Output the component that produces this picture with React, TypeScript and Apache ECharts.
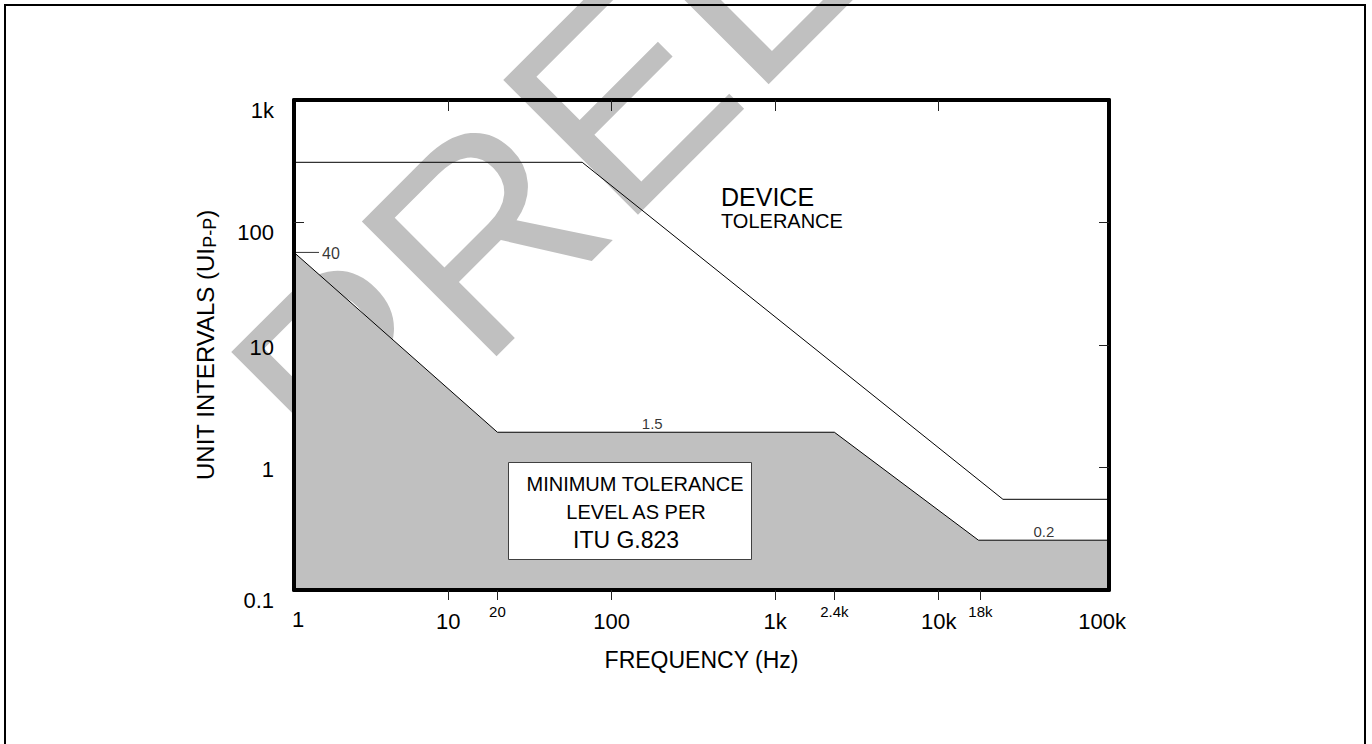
import React, { useEffect, useRef } from 'react';
import * as echarts from 'echarts';

// ---- axis ranges ----
const X_MIN = 1.14;
const X_MAX = 110000;
const Y_MIN = 0.1;
const Y_MAX = 1000;

// ---- series data (frequency Hz, UI p-p) ----
const maskFreq = [1.14, 20, 2300, 17500, 110000];
const maskUI = [57, 1.94, 1.94, 0.255, 0.255];
const deviceFreq = [1.14, 66, 24700, 110000];
const deviceUI = [310, 310, 0.55, 0.55];

// ---- tick labels ----
const xMajorLabelValues = [1.14, 10, 100, 1000, 10000, 100000];
const xMajorLabels = ['1', '10', '100', '1k', '10k', '100k'];
const xMinorTickValues = [20, 2300, 18000];
const xMinorTickLabels = ['20', '2.4k', '18k'];
const xBottomTickValues = [10, 20, 100, 1000, 2300, 10000, 18000];
const xTopTickValues = [10, 100, 1000, 10000];

const yLabelValues = [0.1, 1, 10, 100, 1000];
const yLabels = ['0.1', '1', '10', '100', '1k'];
const yLowered = ['0.1', '100', '1k'];
const yLeftTickValues = [100];
const yRightTickValues = [1, 10, 100];

// ---- annotations on the curves ----
const valueLabelFreq = [177, 44000];
const valueLabelUI = [1.94, 0.255];
const valueLabels = ['1.5', '0.2'];
const markerFreq = [1.14];
const markerUI = [57];
const markerLabels = ['40'];

const FONT = '"Liberation Sans", Arial, Helvetica, sans-serif';

const near = (a: number, b: number) => Math.abs(Math.log10(a) - Math.log10(b)) < 0.01;

export default function App() {
  const ref = useRef<HTMLDivElement>(null);
  useEffect(() => {
    if (!ref.current) return;
    const chart = echarts.init(ref.current, undefined, { renderer: 'svg' });
    const zip = (xs: number[], ys: number[]) => xs.map((x, i) => [x, ys[i]]);
    const option: any = {
      animation: false,
      textStyle: { fontFamily: FONT, color: '#000' },
      grid: { left: 294, top: 100, width: 815, height: 490, show: false },
      xAxis: [
        {
          type: 'log',
          logBase: 10,
          min: X_MIN,
          max: X_MAX,
          position: 'bottom',
          z: 5,
          name: 'FREQUENCY (Hz)',
          nameLocation: 'middle',
          nameGap: 58,
          nameTextStyle: { fontFamily: FONT, fontSize: 23, color: '#000', verticalAlign: 'top' },
          axisLine: { show: true, lineStyle: { color: '#000', width: 4 } },
          axisTick: {
            show: true,
            inside: false,
            length: 10,
            customValues: xBottomTickValues,
            lineStyle: { color: '#222', width: 1 },
          },
          axisLabel: {
            show: true,
            margin: 14,
            customValues: [...xMajorLabelValues, ...xMinorTickValues],
            showMinLabel: true,
            showMaxLabel: true,
            hideOverlap: false,
            formatter: (v: number) => {
              const mi = xMinorTickValues.findIndex((t) => near(t, v));
              if (mi >= 0) return '{s|' + xMinorTickLabels[mi] + '}';
              const ma = xMajorLabelValues.findIndex((t) => near(t, v));
              if (ma >= 0) return (ma === 0 ? '{f|' : '{b|') + xMajorLabels[ma] + '}';
              return '';
            },
            rich: {
              s: { fontFamily: FONT, fontSize: 15, lineHeight: 15, color: '#000' },
              b: { fontFamily: FONT, fontSize: 22, lineHeight: 22, color: '#000', padding: [12, 0, 0, 0] },
              f: { fontFamily: FONT, fontSize: 22, lineHeight: 22, color: '#000', padding: [8, 0, 0, 8] },
            },
          },
          splitLine: { show: false },
        },
        {
          type: 'log',
          logBase: 10,
          min: X_MIN,
          max: X_MAX,
          position: 'top',
          z: 5,
          axisLine: { show: true, lineStyle: { color: '#000', width: 4 } },
          axisTick: {
            show: true,
            inside: true,
            length: 11,
            customValues: xTopTickValues,
            lineStyle: { color: '#222', width: 1 },
          },
          axisLabel: { show: false },
          splitLine: { show: false },
        },
      ],
      yAxis: [
        {
          type: 'log',
          logBase: 10,
          min: Y_MIN,
          max: Y_MAX,
          position: 'left',
          z: 5,
          name: '{a|UNIT INTERVALS (UI}{b|P-P}{a|)}',
          nameLocation: 'middle',
          nameRotate: 90,
          nameGap: 75,
          nameTextStyle: {
            fontFamily: FONT,
            rich: {
              a: { fontFamily: FONT, fontSize: 24, lineHeight: 28, color: '#000' },
              b: { fontFamily: FONT, fontSize: 18, lineHeight: 28, color: '#000', verticalAlign: 'bottom', padding: [6, 0, 0, 0] },
            },
          },
          axisLine: { show: true, lineStyle: { color: '#000', width: 4 } },
          axisTick: {
            show: true,
            inside: true,
            length: 10,
            customValues: yLeftTickValues,
            lineStyle: { color: '#222', width: 1 },
          },
          axisLabel: {
            show: true,
            margin: 20,
            showMinLabel: true,
            showMaxLabel: true,
            customValues: yLabelValues,
            formatter: (v: number) => {
              const i = yLabelValues.findIndex((t) => near(t, v));
              if (i < 0) return '';
              const lbl = yLabels[i];
              return (yLowered.includes(lbl) ? '{lo|' : '{n|') + lbl + '}';
            },
            rich: {
              n: { fontFamily: FONT, fontSize: 22, lineHeight: 22, color: '#000', padding: [4, 0, 0, 0] },
              lo: { fontFamily: FONT, fontSize: 22, lineHeight: 22, color: '#000', padding: [20, 0, 0, 0] },
            },
          },
          splitLine: { show: false },
        },
        {
          type: 'log',
          logBase: 10,
          min: Y_MIN,
          max: Y_MAX,
          position: 'right',
          z: 5,
          axisLine: { show: true, lineStyle: { color: '#000', width: 4 } },
          axisTick: {
            show: true,
            inside: true,
            length: 10,
            customValues: yRightTickValues,
            lineStyle: { color: '#222', width: 1 },
          },
          axisLabel: { show: false },
          splitLine: { show: false },
        },
      ],
      graphic: [
        {
          type: 'text',
          z: -10,
          silent: true,
          x: 282,
          y: 435,
          rotation: Math.PI / 4,
          style: {
            text: 'PRELIMINARY',
            fontFamily: FONT,
            fontSize: 277,
            fill: '#c0c0c0',
            align: 'left',
            verticalAlign: 'middle',
          },
        },
        {
          type: 'rect',
          z: 20,
          silent: true,
          shape: { x: 5, y: 5, width: 1360, height: 800 },
          style: { fill: 'none', stroke: '#000', lineWidth: 2 },
        },
        {
          type: 'text',
          z: 20,
          x: 721,
          y: 197,
          style: { text: 'DEVICE', fontFamily: FONT, fontSize: 25, fill: '#000', align: 'left', verticalAlign: 'middle' },
        },
        {
          type: 'text',
          z: 20,
          x: 721,
          y: 221,
          style: { text: 'TOLERANCE', fontFamily: FONT, fontSize: 20, fill: '#000', align: 'left', verticalAlign: 'middle' },
        },
        {
          type: 'rect',
          z: 20,
          shape: { x: 508.5, y: 462.5, width: 243, height: 97 },
          style: { fill: '#fff', stroke: '#404040', lineWidth: 1 },
        },
        {
          type: 'text',
          z: 21,
          x: 635,
          y: 484,
          style: { text: 'MINIMUM TOLERANCE', fontFamily: FONT, fontSize: 20, fill: '#000', align: 'center', verticalAlign: 'middle' },
        },
        {
          type: 'text',
          z: 21,
          x: 636,
          y: 512,
          style: { text: 'LEVEL AS PER', fontFamily: FONT, fontSize: 20, fill: '#000', align: 'center', verticalAlign: 'middle' },
        },
        {
          type: 'text',
          z: 21,
          x: 573,
          y: 540,
          style: { text: 'ITU G.823', fontFamily: FONT, fontSize: 23, fill: '#000', align: 'left', verticalAlign: 'middle' },
        },
      ],
      series: [
        {
          name: 'ITU G.823 minimum tolerance',
          type: 'line',
          xAxisIndex: 0,
          yAxisIndex: 0,
          data: zip(maskFreq, maskUI),
          symbol: 'none',
          z: 2,
          lineStyle: { color: '#000', width: 1 },
          areaStyle: { color: '#c0c0c0', opacity: 1, origin: 'start' },
        },
        {
          name: 'Device tolerance',
          type: 'line',
          xAxisIndex: 0,
          yAxisIndex: 0,
          data: zip(deviceFreq, deviceUI),
          symbol: 'none',
          z: 3,
          lineStyle: { color: '#000', width: 1 },
        },
        {
          name: 'value labels',
          type: 'scatter',
          xAxisIndex: 0,
          yAxisIndex: 0,
          data: zip(valueLabelFreq, valueLabelUI),
          symbolSize: 1,
          clip: false,
          z: 4,
          itemStyle: { color: 'rgba(0,0,0,0)' },
          label: {
            show: true,
            position: 'top',
            distance: 1,
            fontFamily: FONT,
            fontSize: 15,
            color: '#000',
            formatter: (p: any) => valueLabels[p.dataIndex],
          },
        },
        {
          name: 'marker',
          type: 'scatter',
          xAxisIndex: 0,
          yAxisIndex: 0,
          data: zip(markerFreq, markerUI),
          symbol: 'rect',
          symbolSize: [25, 1],
          symbolOffset: [12.5, 0],
          clip: false,
          z: 6,
          itemStyle: { color: '#000' },
          label: {
            show: true,
            position: 'right',
            distance: 3,
            offset: [0, 1],
            fontFamily: FONT,
            fontSize: 16,
            color: '#000',
            formatter: (p: any) => markerLabels[p.dataIndex],
          },
        },
      ],
    };
    chart.setOption(option);
    return () => chart.dispose();
  }, []);
  return (
    <div
      ref={ref}
      style={{ position: 'fixed', left: 0, top: 0, width: 1372, height: 744, background: '#fff' }}
    />
  );
}
